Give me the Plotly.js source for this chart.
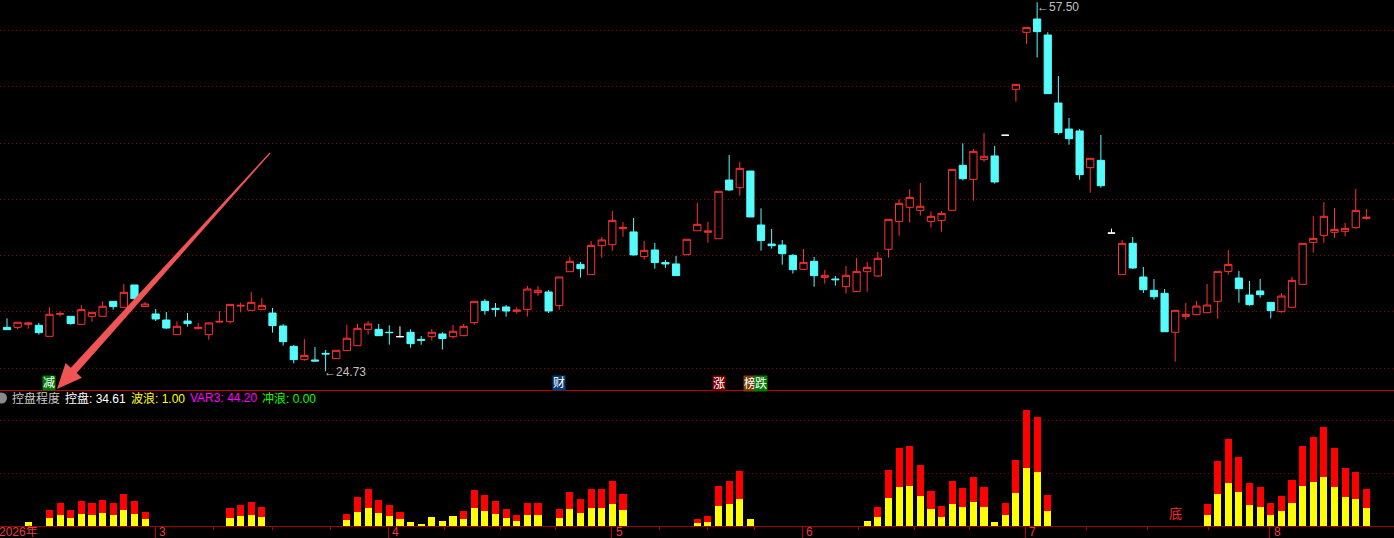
<!DOCTYPE html>
<html>
<head>
<meta charset="utf-8">
<script src="https://cdn.plot.ly/plotly-3.0.1.min.js"></script>
<style>
  html, body { margin: 0; padding: 0; background: #000; }
  #chart { width: 1394px; height: 538px; }
</style>
</head>
<body>
<div id="chart"></div>
<script>
// K-line + 控盘程度 indicator (TDX style)

var W = 1394, H = 538;

// daily candles (index 0 = first visible day)
var opens = [
  28.63, 28.63, 28.90, 28.81, 27.83, 29.79, 29.61, 28.90, 29.61, 29.61,
  30.94, 30.41, 32.39, 30.47, 29.82, 29.28, 27.98, 29.19, 28.51, 27.98,
  29.10, 29.13, 30.52, 30.14, 30.23, 29.90, 28.75, 26.94, 25.76, 25.73,
  26.32, 25.85, 26.56, 27.00, 28.45, 28.45, 28.19, 27.80, 28.19, 27.56,
  27.80, 28.04, 27.80, 27.89, 29.05, 30.94, 30.32, 30.44, 30.05, 30.20,
  31.71, 31.77, 30.56, 33.57, 34.22, 33.31, 35.88, 35.97, 37.39, 37.10,
  34.91, 35.50, 34.38, 34.26, 35.08, 37.21, 37.07, 36.50, 41.71, 41.03,
  42.51, 37.72, 36.03, 35.94, 35.02, 33.78, 34.49, 33.07, 32.92, 32.24,
  31.80, 33.57, 33.19, 35.56, 38.04, 39.29, 39.02, 38.04, 38.13, 39.02,
  43.02, 41.77, 43.52, 43.85, 45.69, 49.77, 54.83, 56.01, 54.59, 48.55,
  46.24, 46.07, 42.81, 43.46, 37.00, 33.31, 36.09, 33.10, 31.92, 31.65,
  28.19, 29.61, 29.75, 29.93, 30.94, 33.60, 33.01, 31.50, 31.86, 30.85,
  30.02, 30.41, 32.45, 36.18, 36.80, 37.07, 37.16, 37.48, 38.31
];
var highs = [
  29.43, 29.08, 29.13, 29.02, 30.41, 30.05, 29.61, 30.61, 29.96, 30.94,
  30.94, 32.48, 32.39, 30.88, 30.26, 29.99, 29.16, 29.90, 29.02, 29.07,
  30.08, 30.67, 30.82, 31.77, 31.23, 30.35, 28.92, 27.06, 27.59, 26.88,
  26.62, 26.59, 28.84, 28.93, 29.19, 28.93, 28.81, 28.72, 28.45, 27.86,
  28.48, 28.19, 28.84, 28.93, 30.94, 31.15, 30.79, 30.61, 30.41, 32.30,
  32.30, 31.95, 33.10, 34.91, 34.43, 36.30, 36.65, 38.96, 37.98, 38.34,
  36.30, 36.12, 34.61, 34.97, 36.45, 39.67, 37.98, 40.71, 43.93, 43.31,
  42.51, 39.20, 37.36, 36.39, 35.14, 35.59, 34.88, 33.72, 33.19, 34.08,
  34.79, 34.43, 35.32, 38.22, 40.00, 40.89, 41.45, 38.93, 38.93, 42.66,
  44.97, 44.47, 45.89, 44.73, 45.69, 50.21, 55.27, 57.50, 54.83, 50.95,
  47.22, 46.24, 43.64, 45.71, 37.40, 36.39, 36.65, 33.99, 32.92, 32.03,
  30.14, 30.79, 30.97, 32.48, 33.60, 35.50, 33.63, 32.74, 32.92, 30.85,
  31.68, 33.10, 36.09, 38.52, 39.76, 39.23, 37.90, 40.92, 39.14
];
var lows = [
  28.42, 28.45, 28.51, 27.98, 27.83, 29.58, 28.87, 28.84, 29.13, 29.61,
  30.20, 30.41, 31.00, 30.47, 29.19, 28.48, 27.98, 28.69, 28.45, 27.53,
  29.04, 28.96, 29.96, 30.14, 30.14, 28.16, 27.00, 25.43, 25.67, 25.61,
  24.73, 25.85, 26.56, 27.00, 27.98, 27.89, 27.09, 27.74, 26.82, 27.09,
  27.45, 26.65, 27.63, 27.89, 28.87, 29.76, 29.58, 29.58, 29.85, 29.58,
  31.42, 29.90, 30.20, 33.57, 33.04, 33.31, 34.82, 35.44, 36.68, 35.00,
  34.64, 33.84, 33.90, 33.22, 35.08, 37.21, 36.15, 36.50, 40.74, 40.32,
  38.43, 35.44, 35.62, 34.20, 33.40, 33.78, 32.24, 32.51, 32.33, 31.62,
  31.80, 31.80, 33.10, 34.82, 36.77, 37.93, 38.55, 37.48, 37.13, 39.02,
  41.68, 39.88, 43.34, 41.39, 45.69, 48.67, 53.82, 52.58, 49.38, 45.74,
  44.85, 41.74, 40.59, 41.03, 37.00, 33.31, 33.81, 31.68, 31.09, 28.24,
  25.58, 29.31, 29.70, 29.93, 29.40, 33.31, 30.82, 30.55, 31.26, 29.43,
  29.93, 30.41, 32.45, 35.26, 36.15, 36.59, 36.71, 37.39, 38.19
];
var closes = [
  28.42, 29.08, 29.02, 28.16, 29.79, 29.85, 28.96, 30.20, 29.96, 30.50,
  30.47, 31.74, 31.18, 30.70, 29.37, 28.57, 28.72, 28.96, 28.63, 29.02,
  29.16, 30.67, 30.58, 30.85, 30.58, 28.78, 27.36, 25.76, 26.14, 25.64,
  26.26, 26.59, 27.66, 28.54, 28.93, 27.89, 28.16, 27.80, 27.18, 27.48,
  28.19, 27.63, 28.28, 28.72, 30.94, 30.11, 30.20, 30.08, 30.17, 32.03,
  31.92, 30.08, 33.10, 34.49, 33.84, 35.91, 36.39, 38.13, 37.51, 35.06,
  35.47, 34.38, 34.26, 33.22, 36.45, 37.78, 37.19, 40.71, 40.83, 42.75,
  38.43, 36.33, 35.88, 35.17, 33.75, 34.40, 33.22, 33.25, 32.86, 33.25,
  33.60, 33.96, 34.76, 38.22, 39.64, 40.17, 39.38, 38.49, 38.75, 42.66,
  41.83, 44.26, 43.82, 41.54, 45.69, 50.21, 55.27, 54.89, 49.38, 45.92,
  45.38, 42.19, 43.64, 41.21, 37.00, 36.09, 33.90, 31.97, 31.35, 28.24,
  30.14, 29.78, 30.52, 30.61, 33.60, 34.22, 32.06, 30.64, 31.53, 30.11,
  31.41, 32.80, 36.09, 36.53, 38.49, 37.33, 37.42, 39.02, 38.40
];

// 控盘 (yellow) and the red part stacked on top of it
var kongpan = [
  0, 0, 7.5, 0, 15.1, 20.8, 15.1, 22.6, 20.8, 24.5,
  20.8, 30.2, 22.6, 13.2, 0, 0, 0, 0, 0, 0,
  0, 15.1, 18.9, 20.8, 17.0, 0, 0, 0, 0, 0,
  0, 0, 11.3, 26.4, 34.0, 24.5, 18.9, 13.2, 7.5, 3.8,
  17.0, 9.4, 18.9, 13.2, 34.0, 28.3, 22.6, 15.1, 9.4, 20.8,
  20.8, 0, 15.1, 32.1, 24.5, 34.0, 34.0, 41.5, 30.2, 0,
  0, 0, 0, 0, 0, 5.7, 7.5, 37.7, 41.5, 50.9,
  13.2, 0, 0, 0, 0, 0, 0, 0, 0, 0,
  0, 9.4, 17.0, 52.8, 73.6, 75.5, 56.6, 32.1, 17.0, 41.5,
  35.9, 45.3, 35.9, 7.5, 20.8, 62.3, 109.4, 101.9, 28.3, 0,
  0, 0, 0, 0, 0, 0, 0, 0, 0, 0,
  0, 0, 0, 20.8, 60.4, 81.1, 64.2, 39.6, 35.9, 20.8,
  28.3, 43.4, 75.5, 83.0, 92.5, 73.6, 54.7, 50.9, 34.61
];
var redPart = [
  0, 0, 0, 0, 15.1, 22.6, 15.1, 24.5, 22.6, 24.5,
  22.6, 30.2, 24.5, 13.2, 0, 0, 0, 0, 0, 0,
  0, 18.9, 20.8, 24.5, 18.9, 0, 0, 0, 0, 0,
  0, 0, 11.3, 28.3, 35.9, 24.5, 20.8, 13.2, 0, 0,
  0, 0, 0, 15.1, 34.0, 30.2, 24.5, 17.0, 11.3, 22.6,
  22.6, 0, 17.0, 32.1, 26.4, 35.9, 35.9, 43.4, 30.2, 0,
  0, 0, 0, 0, 0, 7.5, 11.3, 37.7, 43.4, 52.8,
  0, 0, 0, 0, 0, 0, 0, 0, 0, 0,
  0, 0, 18.9, 52.8, 73.6, 75.5, 58.5, 34.0, 20.8, 43.4,
  35.9, 47.2, 37.7, 0, 22.6, 62.3, 109.4, 103.8, 30.2, 0,
  0, 0, 0, 0, 0, 0, 0, 0, 0, 0,
  0, 0, 0, 20.8, 62.3, 83.0, 66.0, 41.5, 37.7, 22.6,
  28.3, 43.4, 75.5, 84.9, 94.4, 73.6, 54.7, 50.9, 35.9
];

// x axis: month boundaries and small ticks (in day index units)
var monthTicks = [-0.66, 13.95, 35.9, 56.95, 74.9, 95.9, 118.9];
var monthLabels = ['2026年', '3', '4', '5', '6', '7', '8'];
var minorTicks = [19.43, 24.98, 30.48, 41.24, 46.45, 51.67, 61.42, 65.94,
                  70.37, 80.16, 85.43, 90.61, 101.63, 107.37, 113.12];

// signal tags under the candles
var tagText = ['减', '财', '涨', '榜', '跌'];
var tagDay  = [4, 52, 67, 70, 71];
var tagBg   = ['#007a00', '#0a3a78', '#7a0000', '#7a3c00', '#007a00'];

// header of the indicator window
var headText  = ['控盘程度', '控盘: 34.61', '波浪: 1.00', 'VAR3: 44.20', '冲浪: 0.00'];
var headColor = ['#c8c8c8', '#ffffff', '#ffff00', '#ff00ff', '#00ff00'];
var headX     = [10, 63, 129, 188, 260];

var days = opens.map(function (v, i) { return i; });

// split flat (open == close) days, they are drawn white
var mainX = [], mO = [], mH = [], mL = [], mC = [];
var flatX = [], fO = [], fH = [], fL = [], fC = [];
for (var i = 0; i < days.length; i++) {
    if (opens[i] === closes[i]) {
        flatX.push(i); fO.push(opens[i]); fH.push(highs[i]); fL.push(lows[i]); fC.push(closes[i]);
    } else {
        mainX.push(i); mO.push(opens[i]); mH.push(highs[i]); mL.push(lows[i]); mC.push(closes[i]);
    }
}

var FONT = 'Liberation Sans, Noto Sans CJK SC, sans-serif';

function pyPaper(p) { return 1 - p / H; }
function pxPaper(p) { return p / W; }

var data = [
    {
        type: 'candlestick', x: mainX, open: mO, high: mH, low: mL, close: mC,
        xaxis: 'x', yaxis: 'y', whiskerwidth: 0, hoverinfo: 'skip',
        increasing: { line: { color: '#ff3232', width: 1 }, fillcolor: '#000000' },
        decreasing: { line: { color: '#54fcfc', width: 1 }, fillcolor: '#54fcfc' }
    },
    {
        type: 'candlestick', x: flatX, open: fO, high: fH, low: fL, close: fC,
        xaxis: 'x', yaxis: 'y', whiskerwidth: 0, hoverinfo: 'skip',
        increasing: { line: { color: '#ffffff', width: 1 }, fillcolor: '#ffffff' },
        decreasing: { line: { color: '#ffffff', width: 1 }, fillcolor: '#ffffff' }
    },
    {
        type: 'bar', x: days, y: kongpan, xaxis: 'x', yaxis: 'y2',
        marker: { color: '#ffff00', line: { width: 0 } }, hoverinfo: 'skip'
    },
    {
        type: 'bar', x: days, y: redPart, xaxis: 'x', yaxis: 'y2',
        marker: { color: '#ff0000', line: { width: 0 } }, hoverinfo: 'skip'
    }
];

// pixel -> axis mapping used for the layout
var stepPx = 10.62, firstPx = 7;
var x0 = -firstPx / stepPx, x1 = x0 + W / stepPx;
var splitPx = 390, basePx = 526;

// big pointer arrow (decoration)
var tail = [270, 153], tip = [57, 389];
var dx = tip[0] - tail[0], dy = tip[1] - tail[1];
var len = Math.sqrt(dx * dx + dy * dy);
var ux = dx / len, uy = dy / len, nx = -uy, ny = ux;
var base = [tip[0] - ux * 25, tip[1] - uy * 25];
var poly = [
    [tail[0] - nx * 0.6, tail[1] - ny * 0.6],
    [base[0] - nx * 4, base[1] - ny * 4],
    [base[0] - nx * 11, base[1] - ny * 11],
    tip,
    [base[0] + nx * 11, base[1] + ny * 11],
    [base[0] + nx * 4, base[1] + ny * 4],
    [tail[0] + nx * 0.6, tail[1] + ny * 0.6]
];
var arrowPath = 'M' + poly.map(function (p) {
    return pxPaper(p[0]).toFixed(5) + ',' + pyPaper(p[1]).toFixed(5);
}).join(' L') + ' Z';

var annotations = [];

// month labels (paper x so the one on the left edge is not hidden)
for (var m = 0; m < monthTicks.length; m++) {
    annotations.push({
        x: pxPaper(firstPx + stepPx * monthTicks[m]), xref: 'paper',
        y: pyPaper(532), yref: 'paper',
        text: monthLabels[m], showarrow: false, xanchor: 'left', yanchor: 'middle',
        xshift: m === 0 ? -3 : 2,
        font: { family: FONT, size: 12, color: '#e83c3c' }
    });
}

// tags
for (var t = 0; t < tagText.length; t++) {
    annotations.push({
        x: tagDay[t], xref: 'x', y: pyPaper(383), yref: 'paper',
        text: tagText[t], showarrow: false, xanchor: 'center', yanchor: 'middle',
        bgcolor: tagBg[t], borderpad: 0,
        font: { family: FONT, size: 12, color: '#ffffff' }
    });
}

// indicator header
for (var h = 0; h < headText.length; h++) {
    annotations.push({
        x: pxPaper(headX[h]), xref: 'paper', y: pyPaper(398), yref: 'paper',
        text: headText[h], showarrow: false, xanchor: 'left', yanchor: 'middle',
        font: { family: FONT, size: 12, color: headColor[h] }
    });
}

// high / low marks
annotations.push({
    x: 30, xref: 'x', y: 24.73, yref: 'y', text: '←24.73', showarrow: false,
    xanchor: 'left', yanchor: 'middle', xshift: -4, yshift: -1,
    font: { family: FONT, size: 12, color: '#c0c0c0' }
});
annotations.push({
    x: 97, xref: 'x', y: 57.50, yref: 'y', text: '←57.50', showarrow: false,
    xanchor: 'left', yanchor: 'middle', xshift: -2, yshift: -5,
    font: { family: FONT, size: 12, color: '#c0c0c0' }
});

// 底 mark in the indicator window
annotations.push({
    x: 110, xref: 'x', y: 23.6, yref: 'y2', text: '底', showarrow: false,
    xanchor: 'center', yanchor: 'middle',
    font: { family: FONT, size: 13, color: '#ff2828' }
});

var layout = {
    width: W, height: H,
    margin: { l: 0, r: 0, t: 0, b: 0 },
    paper_bgcolor: '#000000', plot_bgcolor: '#000000',
    showlegend: false,
    barmode: 'stack', bargap: 0.33,
    boxgap: 0.32, boxgroupgap: 0,
    xaxis: {
        range: [x0, x1], anchor: 'y2',
        rangeslider: { visible: false },
        showgrid: false, zeroline: false,
        showline: true, linecolor: '#a00000', linewidth: 1,
        tickmode: 'array', tickvals: monthTicks, showticklabels: false,
        ticks: 'outside', ticklen: 12, tickcolor: '#b40000', tickwidth: 1,
        minor: { tickmode: 'array', tickvals: minorTicks, ticks: 'outside',
                 ticklen: 3, tickcolor: '#b40000', tickwidth: 1, showgrid: false }
    },
    yaxis: {
        domain: [pyPaper(splitPx), 1],
        range: [45 - (splitPx - 143) / 11.26, 45 + 143 / 11.26],
        tickmode: 'array', tickvals: [25, 30, 35, 40, 45, 50, 55],
        showticklabels: false, ticks: '',
        showgrid: true, gridcolor: '#8c0000', gridwidth: 1, griddash: '1px,3px',
        zeroline: false, showline: false
    },
    yaxis2: {
        domain: [pyPaper(basePx), pyPaper(splitPx)],
        range: [0, (basePx - splitPx) * 1.887],
        tickmode: 'array', tickvals: [100, 200],
        showticklabels: false, ticks: '',
        showgrid: true, gridcolor: '#8c0000', gridwidth: 1, griddash: '1px,3px',
        zeroline: false, showline: false
    },
    shapes: [
        { type: 'line', xref: 'paper', yref: 'paper', x0: 0, x1: 1,
          y0: pyPaper(390.5), y1: pyPaper(390.5), line: { color: '#c80000', width: 1 } },
        { type: 'circle', xref: 'paper', yref: 'paper',
          x0: pxPaper(-4), x1: pxPaper(7), y0: pyPaper(403.5), y1: pyPaper(392.5),
          fillcolor: '#8a8a8a', line: { width: 0 } },
        { type: 'path', xref: 'paper', yref: 'paper', path: arrowPath,
          fillcolor: '#f05454', line: { width: 0 } }
    ],
    annotations: annotations
};

Plotly.newPlot('chart', data, layout, { staticPlot: true, displayModeBar: false });
</script>
</body>
</html>
